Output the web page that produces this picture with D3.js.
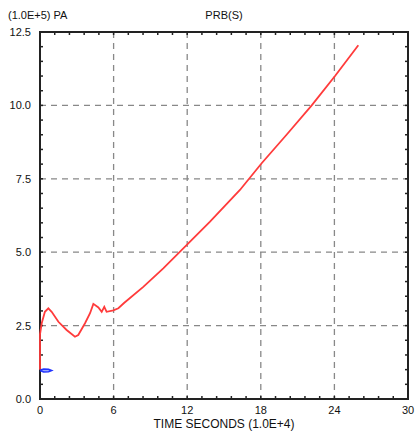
<!DOCTYPE html>
<html>
<head>
<meta charset="utf-8">
<style>
body { margin: 0; background: #fff; }
text { font-family: "Liberation Sans", Arial, sans-serif; font-size: 11px; fill: #111; }
.grid line { stroke: #888; stroke-dasharray: 6,5; stroke-width: 1.3px; }
</style>
</head>
<body>
<svg width="419" height="432"></svg>
<script src="https://cdn.jsdelivr.net/npm/d3@7"></script>
<script>
// PRB(S) vs time
var timeVals = [0, 0, 0.14, 0.4, 0.68, 0.95, 1.5, 2.17, 2.85, 3.12, 3.67, 4.08, 4.35, 4.76, 5.03, 5.24, 5.43, 5.98,
                6.39, 6.85, 8.42, 10.05, 12.09, 13.86, 16.3, 18.07, 20.1, 22.15, 24.05, 25.95];
var prbVals  = [1.0, 2.2, 2.58, 2.97, 3.09, 2.97, 2.63, 2.35, 2.12, 2.18, 2.58, 2.92, 3.24, 3.12, 2.97, 3.14, 2.97, 3.02,
                3.09, 3.27, 3.82, 4.45, 5.30, 6.04, 7.12, 8.03, 9.0, 10.0, 11.0, 12.05];

// small blue marker near the origin
var markTime = [0, 0.3, 0.7, 0.95, 0.7, 0.3, 0];
var markVals = [0.97, 1.02, 1.01, 0.97, 0.93, 0.92, 0.97];

var xTicks = [0, 6, 12, 18, 24, 30];
var yTicks = [0, 2.5, 5, 7.5, 10, 12.5];

var svg = d3.select("svg");
var pLeft = 40, pRight = 408, pTop = 32, pBottom = 399;

var x = d3.scaleLinear().domain([0, 30]).range([pLeft, pRight]);
var y = d3.scaleLinear().domain([0, 12.5]).range([pBottom, pTop]);

// dashed grid
var grid = svg.append("g").attr("class", "grid");
grid.selectAll(".gx").data(xTicks.slice(1, -1)).enter().append("line")
    .attr("x1", function(d) { return x(d); }).attr("x2", function(d) { return x(d); })
    .attr("y1", pTop).attr("y2", pBottom);
grid.selectAll(".gy").data(yTicks.slice(1, -1)).enter().append("line")
    .attr("y1", function(d) { return y(d); }).attr("y2", function(d) { return y(d); })
    .attr("x1", pLeft).attr("x2", pRight);

// minor ticks, pointing inward on all four sides
var xMinor = d3.range(0, 30.01, 1.2);
var yMinor = d3.range(0, 12.51, 0.5);
var tk = svg.append("g").attr("stroke", "#222").attr("stroke-width", 1.5);
xMinor.forEach(function(d) {
  tk.append("line").attr("x1", x(d)).attr("x2", x(d)).attr("y1", pBottom).attr("y2", pBottom - 3);
  tk.append("line").attr("x1", x(d)).attr("x2", x(d)).attr("y1", pTop).attr("y2", pTop + 3);
});
yMinor.forEach(function(d) {
  tk.append("line").attr("y1", y(d)).attr("y2", y(d)).attr("x1", pLeft).attr("x2", pLeft + 3);
  tk.append("line").attr("y1", y(d)).attr("y2", y(d)).attr("x1", pRight).attr("x2", pRight - 3);
});

// frame
svg.append("rect")
    .attr("x", pLeft).attr("y", pTop)
    .attr("width", pRight - pLeft).attr("height", pBottom - pTop)
    .attr("fill", "none").attr("stroke", "#222").attr("stroke-width", 2);

// tick labels
svg.selectAll(".xl").data(xTicks).enter().append("text")
    .attr("x", function(d) { return x(d); })
    .attr("y", 414)
    .attr("text-anchor", "middle")
    .text(function(d) { return d; });
svg.selectAll(".yl").data(yTicks).enter().append("text")
    .attr("x", 31)
    .attr("y", function(d) { return y(d) + 4; })
    .attr("text-anchor", "end")
    .text(function(d) { return d.toFixed(1); });

// titles
svg.append("text").attr("x", 8).attr("y", 19).text("(1.0E+5) PA");
svg.append("text").attr("x", 224).attr("y", 19).attr("text-anchor", "middle").text("PRB(S)");
svg.append("text").attr("x", 224).attr("y", 428).attr("text-anchor", "middle")
    .style("font-size", "12px").text("TIME SECONDS  (1.0E+4)");

var line = d3.line()
    .x(function(d) { return x(d[0]); })
    .y(function(d) { return y(d[1]); });

svg.append("path")
    .datum(d3.zip(timeVals, prbVals))
    .attr("d", line)
    .attr("fill", "none")
    .attr("stroke", "#ff3b3b")
    .attr("stroke-width", 1.8);

svg.append("path")
    .datum(d3.zip(markTime, markVals))
    .attr("d", line)
    .attr("fill", "#9aa8ff")
    .attr("stroke", "#2233ff")
    .attr("stroke-width", 1.5);
</script>
</body>
</html>
